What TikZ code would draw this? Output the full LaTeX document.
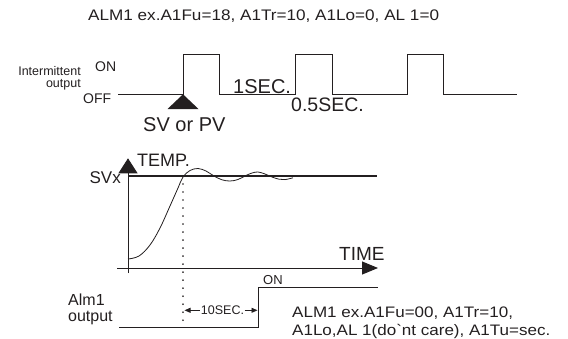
\documentclass[tikz,border=0pt]{standalone}
\usepackage{fontspec}
\setmainfont{Liberation Sans}
\newfontfamily\widefont{Liberation Sans}[FakeStretch=1.12]
\usetikzlibrary{arrows.meta}
\definecolor{ink}{HTML}{231F20}
\newcommand\fsz[1]{\fontsize{#1}{#1}\selectfont}
\begin{document}
\begin{tikzpicture}[x=1pt,y=-1pt,
  lbl/.style={inner sep=0pt, text=ink},
  wave/.style={draw=ink, line width=1pt},
  axis/.style={draw=ink, line width=1pt},
  smallarrow/.style={draw=ink, line width=0.9pt, -{Triangle[length=6pt,width=5pt]}}]
\useasboundingbox (0,0) rectangle (568,338);

% title
\node[lbl, anchor=base west, font=\widefont\fsz{15.3}] (title) at (88,20.5) {ALM1 ex.A1Fu=18, A1Tr=10, A1Lo=0, AL 1=0};

% intermittent output labels
\node[lbl, anchor=base west, font=\fsz{14}] (on1) at (95,71.5) {ON};
\node[lbl, anchor=base west, font=\fsz{14}] (off1) at (83,103.3) {OFF};
\node[lbl, anchor=base east, font=\fsz{12.5}] (int1) at (81,75) {Intermittent};
\node[lbl, anchor=base east, font=\fsz{12.5}] (int2) at (81,87) {output};

% pulse train
\coordinate (p0) at (118,94.3);
\coordinate (pend) at (517,94.3);
\draw[wave] (p0) -| (183,54.3) -| (219,94.3) -| (295,54.3) -| (332,94.3) -| (407,54.3) -| (443,94.3) -- (pend);
\fill[ink] (183,94.3) -- (198.5,109) -- (167.5,109) -- cycle;
\node[lbl, anchor=base west, font=\fsz{20}] (sec1) at (233,93.8) {1SEC.};
\node[lbl, anchor=base west, font=\fsz{19.5}] (sec05) at (291,111.7) {0.5SEC.};
\node[lbl, anchor=base west, font=\fsz{20}] (svpv) at (143,131.5) {SV or PV};

% temperature chart
\coordinate (ybot) at (128,273);
\coordinate (ytop) at (128,158.3);
\coordinate (xl) at (117,268);
\coordinate (xr) at (378,268);
\draw[axis, -{Triangle[length=15pt,width=19pt]}] (ybot) -- (ytop);
\draw[axis, -{Triangle[length=16pt,width=13pt]}] (xl) -- (xr);
\draw[draw=ink, line width=1.6pt] (128,176) -- (377,176);
\node[lbl, anchor=base west, font=\fsz{18}] (temp) at (137,166.7) {TEMP.};
\node[lbl, anchor=base east, font=\fsz{17}] (svx) at (121,183.3) {SVx};
\node[lbl, anchor=base west, font=\fsz{19}] (time) at (339,260.7) {TIME};

\draw[draw=ink, line width=0.8pt] plot[smooth, tension=0.6] coordinates {
 (128,259) (139,256) (150,245) (160,228) (170,206) (178,188) (183,177)
 (190,170.5) (198,168.5) (206,171) (214,176) (222,179.8) (230,181) (238,179.5)
 (246,175.5) (252,173) (258,172) (265,174) (272,177) (279,179.2) (285,179.6) (293,177.8)};

% dotted marker
\draw[draw=ink, line width=1.7pt, line cap=round, dash pattern=on 0.01pt off 8pt] (183,184) -- (183,322);

% alarm output
\node[lbl, anchor=base west, font=\fsz{13}] (on2) at (263,284.3) {ON};
\draw[wave] (119,327) -| (258,287) -- (378,287);
\node[lbl, anchor=base west, font=\fsz{16}] (alm) at (68,305) {Alm1};
\node[lbl, anchor=base west, font=\fsz{16}] (almout) at (68,321.7) {output};
\node[lbl, font=\fsz{12.5}] (tensec) at (222.5,310) {10SEC.};
\draw[smallarrow] (tensec.west) ++(-1,0.3) -- (184.5,310.3);
\draw[smallarrow] (tensec.east) ++(0.5,0.3) -- (257.5,310.3);

\node[lbl, anchor=base west, font=\widefont\fsz{15.2}] (note1) at (292,317.3) {ALM1 ex.A1Fu=00, A1Tr=10,};
\node[lbl, anchor=base west, font=\widefont\fsz{15.2}] (note2) at (292,335.7) {A1Lo,AL 1(do`nt care), A1Tu=sec.};
\end{tikzpicture}
\end{document}
